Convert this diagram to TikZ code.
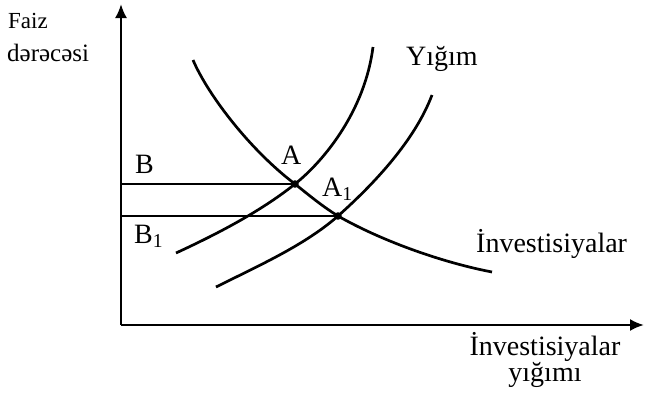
\documentclass[tikz,border=0pt]{standalone}
\usepackage{fontspec}
\setmainfont{Liberation Serif}
\usetikzlibrary{arrows.meta}
\definecolor{ink}{HTML}{000000}

\begin{document}
\begin{tikzpicture}[x=1pt,y=-1pt,every node/.style={text=ink,inner sep=0pt},
  lbl/.style={font=\fontsize{28}{30}\selectfont},
  curve/.style={draw=ink,line width=2.7pt},
  level/.style={draw=ink,line width=2pt},
  axis/.style={draw=ink,line width=2.2pt,-{Latex[length=14pt,width=12pt]}}]
\useasboundingbox (0,0) rectangle (646,397);
% axes
\coordinate (O) at (121,325);
\coordinate (ytop) at (121,4);
\coordinate (xend) at (644,325);
\draw[axis] (O) -- (ytop);
\draw[axis] (O) -- (xend);
\node[anchor=base west,font=\fontsize{23}{25}\selectfont] (ylab1) at (8,28) {Faiz};
\node[anchor=base west,font=\fontsize{25}{27}\selectfont] (ylab2) at (7,61) {dərəcəsi};
\node[align=center,font=\fontsize{28}{25}\selectfont] (xlab) at (545,360)
  {İnvestisiyalar\\yığımı};
% equilibrium points
\coordinate (A) at (295,184);
\coordinate (A1) at (338,216);
\coordinate (B) at (121,184);
\coordinate (B1) at (121,216);
% investment curve
\draw[curve] (193,60) .. controls (208,95) and (250,150) .. (A)
  .. controls (310,196) and (322,206) .. (A1)
  .. controls (380,240) and (440,262) .. (492,272);
% savings curves
\draw[curve] (176,253) .. controls (215,235) and (260,212) .. (A)
  .. controls (325,160) and (365,110) .. (373,47);
\draw[curve] (216,287) .. controls (260,265) and (305,245) .. (A1)
  .. controls (375,183) and (415,140) .. (432,95);
% interest rate levels
\draw[level] (B) -- (A);
\draw[level] (B1) -- (A1);
\fill[ink] (A) circle (3.8);
\fill[ink] (A1) circle (3.8);
% labels
\node[lbl,anchor=base west] (blab) at (135,173) {B};
\node[lbl,anchor=base west] (b1lab) at (134,243) {B\textsubscript{1}};
\node[lbl,anchor=base west] (alab) at (281,164) {A};
\node[lbl,anchor=base west] (a1lab) at (322,196) {A\textsubscript{1}};
\node[lbl,anchor=base west] (slab) at (406,65) {Yığım};
\node[lbl,anchor=base west] (ilab) at (476,252) {İnvestisiyalar};
\end{tikzpicture}
\end{document}
